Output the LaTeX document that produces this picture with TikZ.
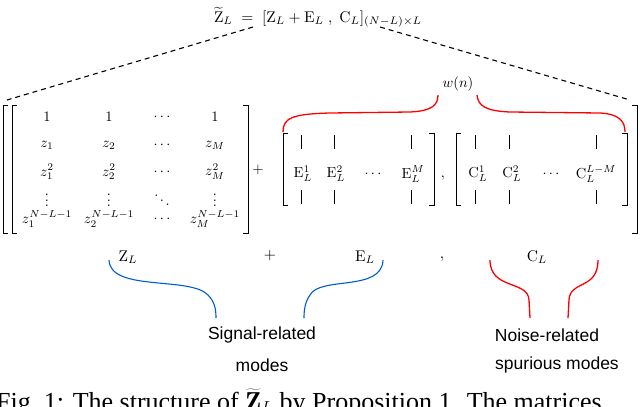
\documentclass[tikz,border=0pt]{standalone}
\usepackage{graphicx}
\usepackage{fontspec}
\newfontfamily\sansf{Liberation Sans}
\newfontfamily\serf{Liberation Serif}
\newcommand{\MX}[1]{\scalebox{1.45}{$#1$}}
\newcommand{\LX}[1]{\scalebox{1.55}{$#1$}}
\begin{document}
\begin{tikzpicture}[x=1pt,y=-1pt,
  ent/.style={inner sep=0pt},
  sans/.style={inner sep=0pt,font=\sansf\fontsize{17.5}{20}\selectfont},
  brk/.style={line width=0.9pt},
  bar/.style={line width=0.7pt},
  dashln/.style={line width=1.1pt,dash pattern=on 5pt off 4pt},
  bluebr/.style={draw=blue!55!cyan!80!black,line width=1.1pt},
  redbr/.style={draw=red,line width=1.3pt}]
\useasboundingbox (0,0) rectangle (640,407);
\clip (0,0) rectangle (640,407);
% title
\node[ent,anchor=base] (title) at (318,22) {\LX{\widetilde{\mathrm{Z}}_L\;=\;[\mathrm{Z}_L+\mathrm{E}_L\;,\;\mathrm{C}_L]_{(N-L)\times L}}};
\coordinate (tl) at (253,27);
\coordinate (tr) at (380,27);
\coordinate (bl) at (7,100);
\coordinate (br) at (630,100);
\draw[dashln] (tl) -- (bl);
\draw[dashln] (tr) -- (br);
% outer bracket
\draw[brk] (8,105) -- (3,105) -- (3,233) -- (8,233);
\draw[brk] (632,105) -- (637,105) -- (637,233) -- (632,233);
% Z matrix bracket
\draw[brk] (17,105) -- (12,105) -- (12,233) -- (17,233);
\draw[brk] (243,105) -- (248,105) -- (248,233) -- (243,233);
\foreach \x/\a/\b/\c/\d/\e [count=\i] in
 {47/1/z_1/z_1^2/\vdots/z_1^{N-L-1},
  109/1/z_2/z_2^2/\vdots/z_2^{N-L-1},
  162/\cdots/\cdots/\cdots/\ddots/\cdots,
  215/1/z_M/z_M^2/\vdots/z_M^{N-L-1}}{
  \node[ent] (za\i) at (\x,117) {\MX{\a}};
  \node[ent] (zb\i) at (\x,145) {\MX{\b}};
  \node[ent] (zc\i) at (\x,172) {\MX{\c}};
  \node[ent] (zd\i) at (\x,196) {\MX{\d}};
  \node[ent] (ze\i) at (\x,219) {\MX{\e}};
}
\node[ent] (plus1) at (258,170) {\MX{+}};
% E matrix
\draw[brk] (288,133) -- (283,133) -- (283,205) -- (288,205);
\draw[brk] (429,133) -- (434,133) -- (434,205) -- (429,205);
\foreach \x/\px/\t [count=\i] in {303/301/\mathrm{E}_L^1,336/334/\mathrm{E}_L^2,413/411/\mathrm{E}_L^M}{
  \node[ent] (e\i) at (\x,174) {\MX{\t}};
  \draw[bar] (\px,135) -- (\px,149);
  \draw[bar] (\px,190) -- (\px,204);
}
\node[ent] (ed) at (373,174) {\MX{\cdots}};
\node[ent] (comma1) at (443,178) {\MX{,}};
% C matrix
\draw[brk] (461,133) -- (456,133) -- (456,205) -- (461,205);
\draw[brk] (622,133) -- (627,133) -- (627,205) -- (622,205);
\foreach \x/\px/\t [count=\i] in {478/475/\mathrm{C}_L^1,512/509/\mathrm{C}_L^2,596/596/\mathrm{C}_L^{L-M}}{
  \node[ent] (c\i) at (\x,174) {\MX{\t}};
  \draw[bar] (\px,135) -- (\px,149);
  \draw[bar] (\px,190) -- (\px,204);
}
\node[ent] (cd) at (551,174) {\MX{\cdots}};
% w(n) brace
\node[ent] (wn) at (458,84) {\MX{w(n)}};
\draw[redbr] (283,132) .. controls (283,118) and (292,114) .. (330,113)
  -- (410,112) .. controls (432,111) and (438,105) .. (438,95);
\draw[redbr] (477,95) .. controls (478,106) and (486,111) .. (510,112)
  -- (600,113) .. controls (620,114) and (625,122) .. (625,132);
% bottom labels
\node[ent] (ZL) at (128,257) {\LX{\mathrm{Z}_L}};
\node[ent] (plus2) at (270,256) {\LX{+}};
\node[ent] (EL) at (365,257) {\LX{\mathrm{E}_L}};
\node[ent] (comma2) at (442,259) {\LX{,}};
\node[ent] (CL) at (537,257) {\LX{\mathrm{C}_L}};
% blue brace
\draw[bluebr] (109,260) .. controls (110,292) and (190,276) .. (208,295) .. controls (215,302) and (216,310) .. (216,318);
\draw[bluebr] (383,260) .. controls (382,292) and (320,276) .. (310,295) .. controls (305,302) and (304,310) .. (304,318);
% red brace
\draw[redbr] (490,260) .. controls (490,290) and (528,280) .. (529,300) -- (530,318);
\draw[redbr] (598,260) .. controls (598,290) and (570,280) .. (569,300) -- (568,318);
% texts
\node[sans] (sig) at (262,335) {Signal-related};
\node[sans] (sigm) at (262,365) {modes};
\node[sans] (noi) at (547,335) {Noise-related};
\node[sans] (noim) at (557,365) {spurious modes};
% caption (cut off)
\node[inner sep=0pt,anchor=base west,font=\serf\fontsize{26}{28}\selectfont] (cap) at (-4,410)
 {Fig.~1: The structure of $\widetilde{\mathbf{Z}}_L$ by Proposition 1. The matrices};
\end{tikzpicture}
\end{document}
